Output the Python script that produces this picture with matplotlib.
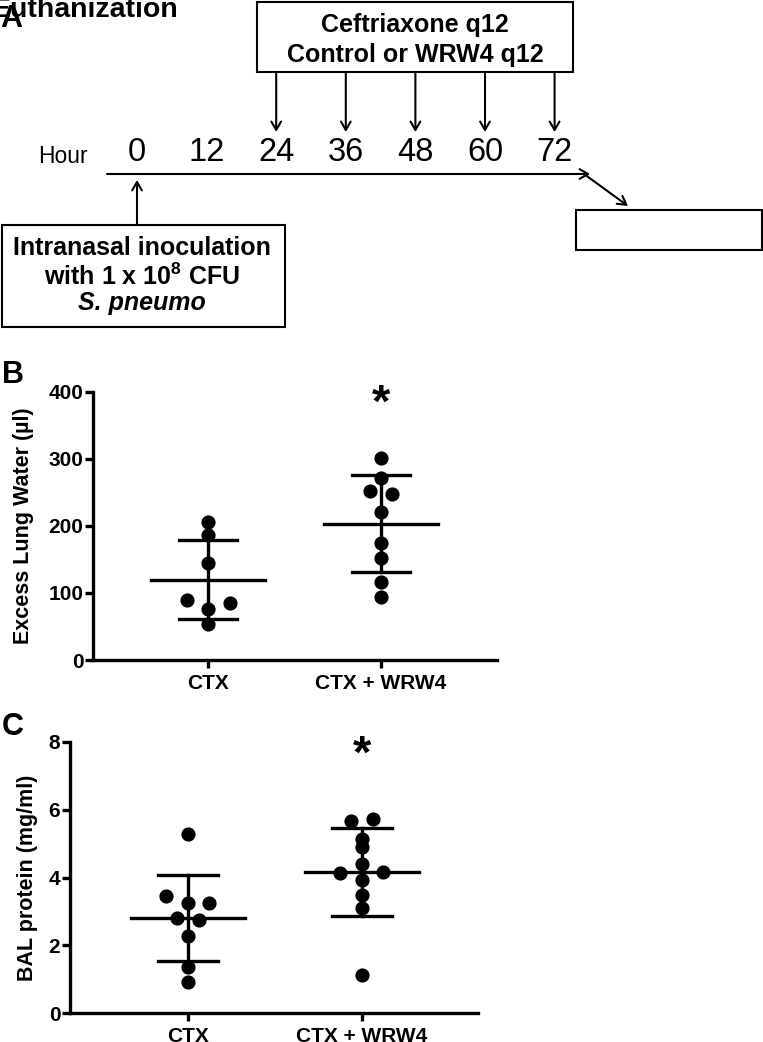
import numpy as np
import matplotlib
matplotlib.use('Agg')
import matplotlib.pyplot as plt
from matplotlib.patches import Rectangle

plt.rcParams['font.family'] = ['Liberation Sans', 'DejaVu Sans']
plt.rcParams['mathtext.default'] = 'regular'

# timeline (panel A)
hours = [0, 12, 24, 36, 48, 60, 72]
dose_hours = [24, 36, 48, 60, 72]

# panels B and C
groups = ['CTX', 'CTX + WRW4']
lung_water_ctx = [205, 187, 145, 90, 75.5, 84.5, 53]
lung_water_wrw4 = [301, 272, 251.5, 247, 220, 175, 152, 116, 94]
bal_ctx = [5.27, 3.46, 3.26, 3.26, 2.82, 2.75, 2.28, 1.35, 0.93]
bal_wrw4 = [5.66, 5.73, 5.14, 4.91, 4.39, 4.14, 3.94, 4.16, 3.48, 3.11, 1.12]

W, H = 763, 1042
fig = plt.figure(figsize=(W / 100, H / 100), dpi=100)


def hx(h):
    # hour -> pixel x on the timeline
    return 137 + 5.8 * h


# ---- panel A, drawn in pixel coords
axA = fig.add_axes([0, 0, 1, 1])
axA.set_xlim(0, W)
axA.set_ylim(H, 0)
axA.axis('off')

arr = dict(arrowstyle='->,head_length=0.6,head_width=0.35', lw=1.5, color='k',
           shrinkA=0, shrinkB=0)

axA.text(-9, 17, 'Euthanization', fontsize=20.5, fontweight='bold', va='baseline')
axA.text(0, 27, 'A', fontsize=22, fontweight='bold', va='baseline')

axA.add_patch(Rectangle((257, 2), 316, 70, fill=False, lw=1.5, ec='k'))
axA.text(415, 32, 'Ceftriaxone q12', fontsize=18, fontweight='bold', ha='center', va='baseline')
axA.text(415, 62, 'Control or WRW4 q12', fontsize=18, fontweight='bold', ha='center', va='baseline')
for h in dose_hours:
    axA.annotate('', xy=(hx(h), 132), xytext=(hx(h), 72), arrowprops=arr)

axA.text(63, 163, 'Hour', fontsize=16.5, ha='center', va='baseline')
for h in hours:
    axA.text(hx(h), 161, str(h), fontsize=23.5, ha='center', va='baseline')

axA.annotate('', xy=(590, 174), xytext=(107, 174), arrowprops=arr)
axA.annotate('', xy=(628, 206), xytext=(584, 174), arrowprops=arr)
axA.add_patch(Rectangle((576, 210), 186, 40, fill=False, lw=1.5, ec='k'))

axA.annotate('', xy=(hx(0), 180), xytext=(hx(0), 225), arrowprops=arr)
axA.add_patch(Rectangle((2, 225), 283, 102, fill=False, lw=1.5, ec='k'))
axA.text(142, 255, 'Intranasal inoculation', fontsize=18, fontweight='bold', ha='center', va='baseline')
axA.text(142, 285, r'with 1 x 10$^{8}$ CFU', fontsize=18, fontweight='bold', ha='center', va='baseline')
axA.text(142, 310, 'S. pneumo', fontsize=18, fontweight='bold', fontstyle='italic',
         ha='center', va='baseline')

axA.text(2, 383, 'B', fontsize=22, fontweight='bold', va='baseline')
axA.text(2, 735, 'C', fontsize=22, fontweight='bold', va='baseline')


def spread(ax, vals, step_px=21.5, tol_px=7.0):
    # near-equal values share a row and get pushed sideways (prism style)
    p0 = ax.transData.transform((0, 0))
    p1 = ax.transData.transform((1, 1))
    ppx = p1[0] - p0[0]
    ppy = p1[1] - p0[1]
    vals = np.asarray(vals, float)
    order = np.argsort(-vals, kind='stable')
    rows = [[order[0]]]
    for a, b in zip(order[:-1], order[1:]):
        if (vals[a] - vals[b]) * ppy < tol_px:
            rows[-1].append(b)
        else:
            rows.append([b])
    offs = np.zeros(len(vals))
    for r in rows:
        r = sorted(r)
        n = len(r)
        for i, k in enumerate(r):
            offs[k] = (i - (n - 1) / 2) * step_px / ppx
    return offs


def dot_panel(rect, xlim, ylim, yticks, data, ylabel, label_x, star_y):
    ax = fig.add_axes(rect)
    ax.patch.set_visible(False)
    ax.set_xlim(*xlim)
    ax.set_ylim(*ylim)
    for s in ['top', 'right']:
        ax.spines[s].set_visible(False)
    for s in ['left', 'bottom']:
        ax.spines[s].set_linewidth(2.4)
    ax.set_yticks(yticks)
    ax.set_xticks(range(len(groups)))
    ax.set_xticklabels(groups, fontsize=15, fontweight='bold')
    for t in ax.get_yticklabels():
        t.set_fontsize(15)
        t.set_fontweight('bold')
    ax.tick_params(axis='y', length=6, width=2.4, pad=1)
    ax.tick_params(axis='x', length=6, width=2.4, pad=4)
    ax.set_ylabel(ylabel, fontsize=15.5, fontweight='bold', va='center')
    ax.yaxis.set_label_coords(label_x, 0.5)

    for i, vals in enumerate(data):
        offs = spread(ax, vals)
        ax.plot(i + offs, vals, 'o', color='k', ms=9.2, zorder=3, clip_on=False)
        m = np.mean(vals)
        sd = np.std(vals, ddof=1)
        ax.plot([i - 0.33, i + 0.33], [m, m], color='k', lw=2.4)
        ax.plot([i - 0.17, i + 0.17], [m + sd, m + sd], color='k', lw=2.4)
        ax.plot([i - 0.17, i + 0.17], [m - sd, m - sd], color='k', lw=2.4)
        ax.plot([i, i], [m - sd, m + sd], color='k', lw=2.4)
    ax.text(1, star_y, '*', fontsize=34, fontweight='bold', ha='center', va='center')
    return ax


axB = dot_panel([93 / W, 1 - 660 / H, 404 / W, 268.3 / H], (-0.665, 1.671), (0, 400),
                [0, 100, 200, 300, 400], [lung_water_ctx, lung_water_wrw4],
                'Excess Lung Water (µl)', -0.173, 380)
axC = dot_panel([70 / W, 1 - 1013.3 / H, 408 / W, 271.6 / H], (-0.678, 1.667), (0, 8),
                [0, 2, 4, 6, 8], [bal_ctx, bal_wrw4],
                'BAL protein (mg/ml)', -0.103, 7.6)

fig.savefig('out.png', dpi=100)
